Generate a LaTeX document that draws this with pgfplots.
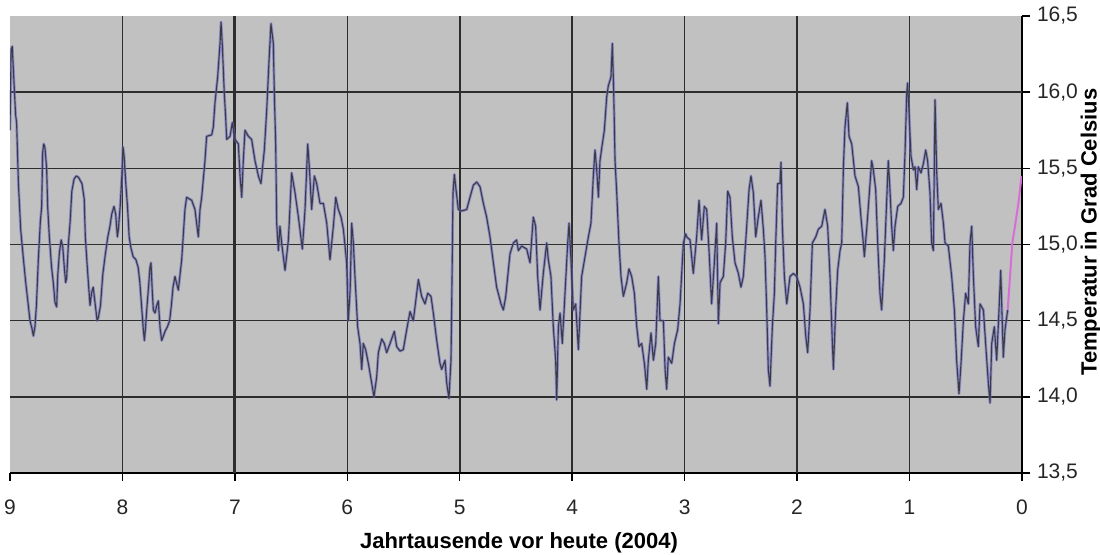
\documentclass[border=0pt]{standalone}
\usepackage{fontspec}
\setmainfont{Liberation Sans}
\usepackage{pgfplots}
\usepackage{pgfplotstable}
\pgfplotsset{compat=1.18}
\definecolor{bgc}{RGB}{193,193,193}
\definecolor{gridc}{RGB}{45,45,45}
\definecolor{linec}{RGB}{60,60,64}
\definecolor{bluec}{RGB}{105,105,215}
\definecolor{pinkc}{RGB}{215,110,215}

\pgfplotstableread{
x t
9.000 15.75
8.990 16.28
8.980 16.30
8.970 16.15
8.960 16.00
8.950 15.85
8.941 15.80
8.925 15.40
8.905 15.10
8.880 14.90
8.860 14.75
8.840 14.62
8.822 14.50
8.805 14.45
8.792 14.40
8.778 14.46
8.765 14.60
8.748 14.90
8.730 15.15
8.718 15.25
8.710 15.60
8.700 15.66
8.690 15.64
8.674 15.50
8.665 15.25
8.650 15.05
8.630 14.85
8.615 14.75
8.600 14.62
8.585 14.59
8.575 14.80
8.560 14.95
8.545 15.03
8.530 14.98
8.517 14.85
8.505 14.75
8.496 14.78
8.481 15.00
8.465 15.15
8.450 15.35
8.430 15.43
8.410 15.45
8.390 15.44
8.360 15.40
8.340 15.30
8.330 15.05
8.315 14.88
8.300 14.72
8.288 14.60
8.275 14.68
8.260 14.72
8.244 14.62
8.225 14.50
8.214 14.52
8.195 14.60
8.175 14.80
8.155 14.92
8.130 15.05
8.111 15.12
8.095 15.20
8.075 15.25
8.060 15.20
8.045 15.05
8.036 15.10
8.020 15.25
8.005 15.45
7.995 15.64
7.985 15.58
7.970 15.40
7.955 15.25
7.940 15.05
7.925 14.98
7.905 14.92
7.880 14.90
7.860 14.85
7.845 14.75
7.830 14.60
7.815 14.45
7.805 14.37
7.795 14.45
7.784 14.57
7.770 14.70
7.755 14.85
7.746 14.88
7.735 14.70
7.725 14.57
7.710 14.55
7.695 14.60
7.681 14.63
7.665 14.45
7.651 14.37
7.635 14.40
7.621 14.43
7.600 14.46
7.580 14.50
7.565 14.60
7.550 14.72
7.533 14.79
7.503 14.70
7.473 14.90
7.444 15.23
7.429 15.31
7.384 15.29
7.355 15.23
7.325 15.05
7.310 15.23
7.295 15.31
7.266 15.55
7.251 15.71
7.206 15.72
7.192 15.77
7.177 15.93
7.153 16.10
7.132 16.32
7.123 16.46
7.111 16.30
7.094 15.99
7.082 15.84
7.073 15.69
7.043 15.71
7.023 15.80
6.999 15.69
6.969 15.66
6.954 15.45
6.939 15.31
6.925 15.55
6.910 15.75
6.880 15.71
6.851 15.69
6.821 15.55
6.791 15.45
6.768 15.40
6.756 15.49
6.738 15.62
6.717 15.88
6.696 16.21
6.679 16.45
6.658 16.32
6.649 15.99
6.637 15.66
6.628 15.14
6.613 14.96
6.599 15.12
6.584 15.01
6.554 14.83
6.524 15.03
6.495 15.47
6.465 15.34
6.435 15.18
6.400 14.97
6.376 15.23
6.352 15.66
6.338 15.51
6.317 15.23
6.293 15.45
6.272 15.40
6.243 15.27
6.213 15.27
6.183 15.14
6.154 14.90
6.124 15.12
6.103 15.31
6.080 15.23
6.056 15.18
6.035 15.10
6.006 14.88
5.991 14.50
5.975 14.70
5.961 15.14
5.946 15.01
5.932 14.79
5.908 14.46
5.887 14.35
5.872 14.18
5.858 14.35
5.837 14.31
5.813 14.22
5.783 14.09
5.763 14.00
5.739 14.13
5.724 14.29
5.694 14.38
5.671 14.35
5.650 14.29
5.620 14.35
5.582 14.43
5.561 14.33
5.531 14.30
5.502 14.31
5.472 14.44
5.442 14.56
5.413 14.50
5.383 14.68
5.368 14.77
5.339 14.66
5.309 14.61
5.285 14.68
5.256 14.66
5.235 14.55
5.205 14.37
5.176 14.22
5.161 14.18
5.131 14.24
5.116 14.09
5.096 13.99
5.078 14.24
5.072 14.57
5.060 15.34
5.048 15.46
5.033 15.36
5.013 15.23
4.983 15.22
4.938 15.23
4.909 15.31
4.879 15.39
4.849 15.41
4.820 15.38
4.790 15.27
4.761 15.18
4.731 15.05
4.701 14.88
4.672 14.72
4.633 14.61
4.612 14.57
4.591 14.66
4.568 14.83
4.553 14.94
4.523 15.01
4.494 15.03
4.479 14.96
4.449 14.99
4.405 14.97
4.375 14.88
4.346 15.18
4.325 15.12
4.307 14.79
4.286 14.57
4.257 14.81
4.227 15.01
4.212 14.90
4.189 14.79
4.168 14.46
4.147 14.24
4.138 13.98
4.123 14.46
4.108 14.55
4.088 14.35
4.064 14.68
4.040 15.01
4.028 15.14
4.011 14.90
3.990 14.57
3.969 14.61
3.945 14.31
3.916 14.79
3.886 14.92
3.856 15.05
3.833 15.14
3.812 15.45
3.797 15.62
3.782 15.49
3.767 15.31
3.753 15.55
3.732 15.66
3.714 15.75
3.693 15.97
3.679 16.04
3.655 16.10
3.643 16.32
3.631 16.01
3.619 15.55
3.604 15.34
3.584 15.01
3.566 14.79
3.545 14.66
3.515 14.75
3.495 14.84
3.471 14.79
3.447 14.68
3.426 14.46
3.406 14.33
3.382 14.35
3.358 14.22
3.337 14.05
3.323 14.24
3.299 14.42
3.278 14.24
3.257 14.35
3.234 14.79
3.219 14.50
3.189 14.50
3.174 14.18
3.160 14.05
3.145 14.26
3.115 14.22
3.091 14.35
3.062 14.44
3.041 14.61
3.011 15.01
2.991 15.07
2.982 15.05
2.952 15.03
2.923 14.81
2.893 15.05
2.872 15.29
2.849 15.03
2.825 15.25
2.804 15.23
2.783 14.96
2.760 14.61
2.736 14.88
2.715 15.14
2.700 14.48
2.685 14.75
2.656 14.79
2.635 15.01
2.617 15.35
2.597 15.31
2.576 15.05
2.552 14.88
2.522 14.81
2.499 14.72
2.478 14.79
2.448 15.12
2.427 15.36
2.410 15.45
2.389 15.34
2.368 15.05
2.345 15.18
2.321 15.29
2.300 15.10
2.285 14.92
2.270 14.57
2.256 14.18
2.241 14.07
2.220 14.46
2.202 14.68
2.190 15.01
2.173 15.40
2.152 15.40
2.143 15.54
2.131 15.12
2.113 14.79
2.092 14.61
2.063 14.79
2.033 14.81
2.004 14.79
1.974 14.72
1.944 14.61
1.923 14.40
1.906 14.29
1.885 14.57
1.864 15.01
1.834 15.05
1.811 15.10
1.781 15.12
1.752 15.23
1.728 15.12
1.707 14.79
1.686 14.35
1.677 14.18
1.657 14.57
1.639 14.83
1.618 14.96
1.603 15.01
1.588 15.51
1.574 15.77
1.553 15.93
1.538 15.71
1.514 15.66
1.485 15.45
1.455 15.38
1.432 15.18
1.411 15.01
1.402 14.92
1.381 15.10
1.360 15.31
1.337 15.55
1.322 15.49
1.301 15.36
1.283 15.01
1.263 14.68
1.248 14.57
1.224 14.90
1.203 15.29
1.189 15.55
1.174 15.36
1.159 15.12
1.144 14.96
1.129 15.12
1.105 15.25
1.076 15.27
1.055 15.31
1.040 15.60
1.025 15.99
1.017 16.06
1.005 15.88
0.987 15.58
0.966 15.49
0.951 15.51
0.936 15.36
0.922 15.51
0.898 15.47
0.877 15.53
0.856 15.62
0.839 15.55
0.818 15.34
0.803 15.01
0.788 14.96
0.779 15.55
0.773 15.95
0.759 15.49
0.744 15.23
0.720 15.27
0.699 15.14
0.684 15.01
0.655 14.99
0.625 14.79
0.601 14.57
0.581 14.24
0.560 14.02
0.542 14.22
0.521 14.50
0.501 14.68
0.477 14.61
0.462 15.01
0.447 15.12
0.432 14.79
0.412 14.46
0.388 14.33
0.373 14.61
0.343 14.57
0.323 14.35
0.299 14.09
0.284 13.96
0.269 14.35
0.246 14.46
0.225 14.24
0.204 14.57
0.189 14.83
0.166 14.26
0.151 14.44
0.127 14.57
}\tempmain

\pgfplotstableread{
x t
0.127 14.57
0.106 14.79
0.086 15.01
0.062 15.12
0.032 15.27
0.003 15.45
}\tempend

\begin{document}
\begin{tikzpicture}
\useasboundingbox (-5pt,-41pt) rectangle (545pt,236.5pt);
\begin{axis}[
  at={(0pt,0pt)}, anchor=south west,
  scale only axis, width=506pt, height=228.5pt,
  xmin=0, xmax=9, ymin=13.5, ymax=16.5,
  x dir=reverse,
  axis x line*=bottom, axis y line*=right,
  axis line style={black, line width=0.8pt},
  xtick={1,2,3,4,5,6,7,8}, xticklabels={1,2,3,4,5,6,7,8},
  extra x ticks={0,9}, extra x tick labels={0,9},
  extra x tick style={grid=none},
  ytick={14,14.5,15,15.5,16}, yticklabels={{14,0},{14,5},{15,0},{15,5},{16,0}},
  extra y ticks={13.5,16.5}, extra y tick labels={{13,5},{16,5}},
  extra y tick style={grid=none},
  grid=major, major grid style={color=gridc, line width=0.8pt},
  tick align=outside, major tick length=4pt,
  tick style={black, line width=0.7pt},
  axis background/.style={fill=bgc},
  ticklabel style={font=\fontsize{10.5}{12}\selectfont, text=black!85},
  xticklabel style={yshift=-6pt},
  yticklabel style={anchor=west, xshift=0pt},
  xlabel={Jahrtausende vor heute (2004)},
  ylabel={Temperatur in Grad Celsius},
  xlabel style={font=\fontsize{11}{13}\selectfont\bfseries, at={(axis description cs:0.503,-0.153)}, anchor=center},
  ylabel style={font=\fontsize{11}{13}\selectfont\bfseries, at={(axis description cs:1.0682,0.527)}, anchor=center, rotate=0},
  clip=true,
]
\draw[gridc, line width=1.4pt] (axis cs:7,13.5) -- (axis cs:7,16.5);
\draw[gridc, line width=1.4pt] (axis cs:2,13.5) -- (axis cs:2,16.5);
\draw[gridc, line width=1.2pt] (axis cs:0,16) -- (axis cs:9,16);
\addplot[bluec, line width=1.4pt, opacity=0.6, line join=round] table[x=x,y=t] {\tempmain};
\addplot[linec, line width=0.55pt, line join=round] table[x=x,y=t] {\tempmain};
\addplot[pinkc, line width=1.0pt] table[x=x,y=t] {\tempend};
\end{axis}
\end{tikzpicture}
\end{document}
